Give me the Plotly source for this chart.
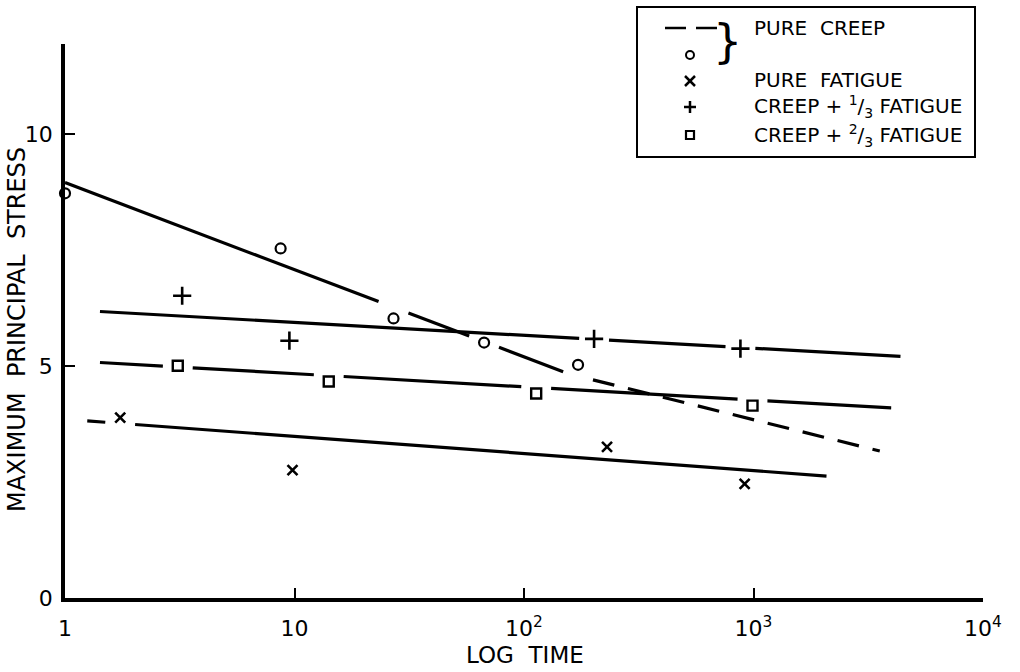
import numpy as np
import plotly.graph_objects as go

# ---------------- data ----------------
creep_t = [1, 8.7, 27, 67, 172]
creep_s = [8.73, 7.54, 6.03, 5.51, 5.03]
fatigue_t = [1.74, 9.8, 230, 915]
fatigue_s = [3.89, 2.76, 3.26, 2.46]
third_t = [3.24, 9.5, 202, 877]
third_s = [6.52, 5.55, 5.59, 5.38]
twothird_t = [3.1, 14.1, 113, 990]
twothird_s = [5.01, 4.67, 4.41, 4.15]

# fitted (hand drawn) curves: vertices
creep_fit_t = [1, 158, 3550]
creep_fit_s = [8.96, 4.83, 3.17]
fatigue_fit_t = [1.25, 2080]
fatigue_fit_s = [3.82, 2.63]
third_fit_t = [1.42, 4370]
third_fit_s = [6.18, 5.21]
twothird_fit_t = [1.42, 3980]
twothird_fit_s = [5.08, 4.10]

x_tick_vals = [1, 10, 100, 1000, 10000]
x_tick_text = ["1", "10", "10<sup>2</sup>", "10<sup>3</sup>", "10<sup>4</sup>"]
y_tick_vals = [0, 5, 10]
y_tick_text = ["0", "5", "10"]

FONT = "DejaVu Sans"
INK = "black"

fig = go.Figure()

GAP = 0.065      # half-width of line break around a marker, decades
NEAR = 0.27      # marker counts as "on the line" if within this many units


def line_pieces(ft, fs, mt, ms, lo=None, hi=None):
    """Return x,y lists (with None separators) of a fitted line broken around markers."""
    lx = np.log10(ft)
    a, b = lx[0], lx[-1]
    if lo is not None:
        a = max(a, np.log10(lo))
    if hi is not None:
        b = min(b, np.log10(hi))
    gaps = []
    for t, s in zip(mt, ms):
        lt = np.log10(t)
        if lt < 0.05:
            continue
        ys = np.interp(lt, lx, fs)
        if abs(ys - s) < NEAR:
            gaps.append((lt - GAP, lt + GAP))
    gaps.sort()
    intervals = []
    cur = a
    for g0, g1 in gaps:
        if g1 <= cur or g0 >= b:
            continue
        if g0 > cur:
            intervals.append((cur, g0))
        cur = max(cur, g1)
    if cur < b:
        intervals.append((cur, b))
    xs, ys = [], []
    for p0, p1 in intervals:
        pts = [p0] + [v for v in lx if p0 < v < p1] + [p1]
        for p in pts:
            xs.append(10 ** p)
            ys.append(float(np.interp(p, lx, fs)))
        xs.append(None)
        ys.append(None)
    return xs, ys


def add_line(xs, ys, dash="solid"):
    fig.add_trace(go.Scatter(x=xs, y=ys, mode="lines",
                             line=dict(color=INK, width=3.2, dash=dash),
                             hoverinfo="skip", showlegend=False))


# creep: solid up to the last observation, dashed beyond
cx, cy = line_pieces(creep_fit_t, creep_fit_s, creep_t, creep_s, hi=creep_t[-1])
add_line(cx, cy)
cx, cy = line_pieces(creep_fit_t, creep_fit_s, creep_t, creep_s, lo=creep_t[-1])
add_line(cx, cy, dash="22px,14px")

for ft, fs, mt, ms in [(third_fit_t, third_fit_s, third_t, third_s),
                       (twothird_fit_t, twothird_fit_s, twothird_t, twothird_s),
                       (fatigue_fit_t, fatigue_fit_s, fatigue_t, fatigue_s)]:
    lx, ly = line_pieces(ft, fs, mt, ms)
    add_line(lx, ly)


def add_markers(t, s, symbol, size, width):
    fig.add_trace(go.Scatter(x=t, y=s, mode="markers", cliponaxis=False,
                             marker=dict(symbol=symbol, size=size, color=INK,
                                         line=dict(color=INK, width=width)),
                             showlegend=False))


add_markers(creep_t, creep_s, "circle-open", 10, 2.2)
add_markers(fatigue_t, fatigue_s, "x-thin-open", 10, 2.6)
add_markers(third_t, third_s, "cross-thin-open", 13, 2.6)
add_markers(twothird_t, twothird_s, "square-open", 10, 2.4)

# ---------------- layout helpers ----------------
L, R, T, B = 65, 983, 44, 598
W, H = R - L, B - T


def px(x):
    return (x - L) / W


def py(y):
    return (B - y) / H


shapes = []
annotations = []

# legend box
shapes.append(dict(type="rect", xref="paper", yref="paper",
                   x0=px(637), x1=px(975), y0=py(157), y1=py(7),
                   line=dict(color=INK, width=2)))
# dashed sample
for x0, x1 in [(665, 686), (696, 717)]:
    shapes.append(dict(type="line", xref="paper", yref="paper",
                       x0=px(x0), x1=px(x1), y0=py(28), y1=py(28),
                       line=dict(color=INK, width=2.5)))
mx = 690
# circle
shapes.append(dict(type="circle", xref="paper", yref="paper",
                   x0=px(mx - 4), x1=px(mx + 4), y0=py(59), y1=py(51),
                   line=dict(color=INK, width=2)))
# x
for d in (1, -1):
    shapes.append(dict(type="line", xref="paper", yref="paper",
                       x0=px(mx - 5), x1=px(mx + 5), y0=py(81 - 5 * d), y1=py(81 + 5 * d),
                       line=dict(color=INK, width=2.5)))
# +
shapes.append(dict(type="line", xref="paper", yref="paper",
                   x0=px(mx - 6), x1=px(mx + 6), y0=py(107), y1=py(107),
                   line=dict(color=INK, width=2.5)))
shapes.append(dict(type="line", xref="paper", yref="paper",
                   x0=px(mx), x1=px(mx), y0=py(101), y1=py(113),
                   line=dict(color=INK, width=2.5)))
# square
shapes.append(dict(type="rect", xref="paper", yref="paper",
                   x0=px(mx - 4), x1=px(mx + 4), y0=py(139), y1=py(131),
                   line=dict(color=INK, width=2.2)))

annotations.append(dict(xref="paper", yref="paper", x=px(727), y=py(41),
                        text="}", showarrow=False, xanchor="center", yanchor="middle",
                        font=dict(family=FONT, size=46, color=INK)))
leg_font = dict(family=FONT, size=20, color=INK)
for ytxt, txt in [(28, "PURE\u00a0 CREEP"), (80, "PURE\u00a0 FATIGUE"),
                  (107, "CREEP + <sup>1</sup>/<sub>3</sub> FATIGUE"),
                  (135, "CREEP + <sup>2</sup>/<sub>3</sub> FATIGUE")]:
    annotations.append(dict(xref="paper", yref="paper", x=px(752), y=py(ytxt),
                            text=txt, showarrow=False, xanchor="left", yanchor="middle",
                            font=leg_font))

# axis titles
annotations.append(dict(xref="paper", yref="paper", x=px(17), y=py(330),
                        text="MAXIMUM\u00a0 PRINCIPAL\u00a0 STRESS",
                        textangle=-90,
                        showarrow=False, xanchor="center", yanchor="middle",
                        font=dict(family=FONT, size=24, color=INK)))
annotations.append(dict(xref="paper", yref="paper", x=px(525), y=py(655),
                        text="LOG\u00a0 TIME", showarrow=False,
                        xanchor="center", yanchor="middle",
                        font=dict(family=FONT, size=23, color=INK)))

fig.update_layout(
    width=1020, height=672,
    margin=dict(l=L, r=1020 - R, t=T, b=672 - B),
    paper_bgcolor="white", plot_bgcolor="white",
    shapes=shapes, annotations=annotations,
    showlegend=False,
    xaxis=dict(type="log", range=[0, 4], showgrid=False, zeroline=False,
               showline=True, linecolor=INK, linewidth=3.5,
               ticks="inside", ticklen=10, tickwidth=2, tickcolor=INK,
               tickvals=x_tick_vals, ticktext=x_tick_text,
               tickfont=dict(family=FONT, size=22, color=INK),
               ticklabelstandoff=8),
    yaxis=dict(range=[0, 11.95], showgrid=False, zeroline=False,
               showline=True, linecolor=INK, linewidth=3.5,
               ticks="inside", ticklen=10, tickwidth=2, tickcolor=INK,
               tickvals=y_tick_vals, ticktext=y_tick_text,
               tickfont=dict(family=FONT, size=22, color=INK),
               ticklabelstandoff=4),
)

fig.write_html("out.html")
